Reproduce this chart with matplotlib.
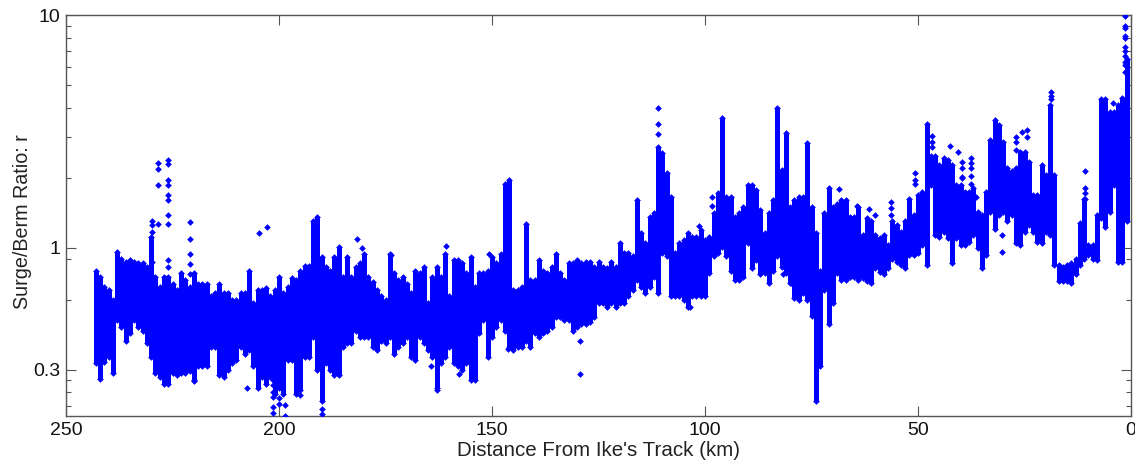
import matplotlib
matplotlib.use("Agg")
import matplotlib.pyplot as plt
from matplotlib.ticker import FixedLocator, FixedFormatter, NullFormatter

plt.rcParams['font.family'] = ['Liberation Sans', 'DejaVu Sans']

km = [243,242,241,240,239,238,237,236,235,234,233,232,231,230,229,228,227,226,225,224,
      223,222,221,220,219,218,217,216,215,214,213,212,211,210,209,208,207,206,205,204,
      203,202,201,200,199,198,197,196,195,194,193,192,191,190,189,188,187,186,185,184,
      183,182,181,180,179,178,177,176,175,174,173,172,171,170,169,168,167,166,165,164,
      163,162,161,160,159,158,157,156,155,154,153,152,151,150,149,148,147,146,145,144,
      143,142,141,140,139,138,137,136,135,134,133,132,131,130,129,128,127,126,125,124,
      123,122,121,120,119,118,117,116,115,114,113,112,111,110,109,108,107,106,105,104,
      103,102,101,100,99,98,97,96,95,94,93,92,91,90,89,88,87,86,85,84,
      83,82,81,80,79,78,77,76,75,74,73,72,71,70,69,68,67,66,65,64,
      63,62,61,60,59,58,57,56,55,54,53,52,51,50,49,48,47,46,45,44,
      43,42,41,40,39,38,37,36,35,34,33,32,31,30,29,28,27,26,25,24,
      23,22,21,20,19,18,17,16,15,14,13,12,11,10,9,8,7,6,5,4,
      3,2,1]

r_high = [.80,.75,.68,.66,.60,.96,.90,.87,.885,.87,.86,.86,.83,1.11,.75,.68,.75,.75,.70,.66,
          .78,.73,.68,.78,.70,.70,.70,.62,.64,.70,.64,.64,.60,.60,.64,.64,.80,.58,.66,.66,
          .67,.62,.66,.75,.64,.68,.74,.73,.80,.84,.84,1.31,1.36,.915,.83,.80,.915,1.01,.75,.915,
          .75,.83,.86,.945,.75,.715,.66,.62,.60,.945,.78,.73,.75,.70,.64,.80,.78,.83,.58,.75,
          .83,.75,.945,.62,.885,.885,.86,.78,.915,.68,.78,.78,.80,.915,.86,.945,1.89,1.95,.66,.66,
          .68,1.27,.73,.73,.885,.80,.78,.83,.945,.78,.73,.86,.86,.885,.86,.87,.87,.83,.87,.83,
          .82,.87,.83,1.05,.95,.95,.92,1.61,1.16,1.05,1.36,1.41,2.72,2.55,2.09,1.66,.95,1.05,1.08,1.16,
          1.12,1.12,1.19,1.08,1.12,1.41,1.72,3.6,1.66,1.66,1.36,1.41,1.50,1.86,1.86,1.77,1.46,1.16,1.41,1.61,
          4.0,2.16,3.1,1.50,1.61,1.66,1.66,2.81,1.50,1.16,.80,1.41,1.80,1.50,1.55,1.61,1.61,1.36,1.36,1.50,
          1.14,1.34,1.30,1.14,1.10,1.14,1.03,1.30,1.25,1.17,1.30,1.63,1.39,1.69,1.74,3.4,2.47,2.47,2.27,2.43,
          2.39,2.27,1.86,1.86,1.74,1.74,1.80,1.43,1.39,1.74,2.91,3.54,3.37,2.86,2.2,2.13,2.2,2.59,2.59,2.35,
          1.69,1.69,2.27,2.06,4.11,2.06,.845,.83,.845,.86,.90,1.28,1.63,1.03,1.03,1.39,4.38,4.38,3.85,3.85,
          4.11,4.4,6.5]

r_low = [.32,.275,.325,.34,.29,.49,.46,.40,.43,.49,.46,.44,.39,.34,.29,.28,.26,.26,.29,.285,
         .29,.29,.295,.27,.31,.31,.31,.375,.375,.285,.28,.30,.32,.33,.375,.35,.365,.31,.25,.28,
         .26,.28,.237,.25,.237,.33,.33,.237,.245,.34,.34,.415,.30,.22,.32,.30,.285,.285,.375,.39,
         .39,.44,.415,.415,.415,.375,.365,.40,.39,.415,.35,.375,.39,.415,.34,.33,.415,.39,.365,.34,
         .245,.32,.34,.375,.32,.31,.30,.32,.27,.27,.43,.49,.34,.415,.46,.49,.44,.375,.365,.375,
         .375,.40,.375,.43,.415,.43,.44,.46,.505,.505,.49,.49,.44,.46,.47,.47,.48,.505,.58,.58,
         .56,.58,.56,.58,.58,.62,.66,.73,.68,.64,.68,.75,.64,.95,.92,.62,.62,.62,.60,.56,
         .62,.62,.62,.62,.78,.92,.95,1.01,.92,.80,.73,.73,.75,1.05,.82,.89,.77,.78,.71,.80,
         .92,.83,.78,.71,.61,.60,.64,.60,.51,.22,.31,.66,.47,.58,.78,.73,.73,.75,.75,.73,
         .74,.72,.705,.82,.79,.77,.82,.90,.87,.845,.82,.93,.93,.95,1.03,.845,1.86,1.14,1.12,1.17,
         1.10,.86,1.10,1.03,1.03,1.06,1.14,1.0,.82,.93,1.43,1.21,1.39,1.43,1.30,1.39,1.05,1.03,1.17,1.25,
         1.17,1.06,1.05,1.17,1.14,.845,.72,.72,.72,.705,.77,.845,.90,.93,.90,.89,1.34,1.23,1.43,1.86,
         .87,.87,1.30]

outlier_km = [228.3,228.3,228.3,228.3,
              226.1,226.1,226.1,226.1,226.1,226.1,226.1,226.1,226.1,226.1,
              229.7,229.7,229.7,229.7,229.7,
              221,221,221,221,221,
              204.6,202.7,
              201.3,201.3,201.3,201.3,201.3,201.3,
              200.1,200.1,198.7,198.7,189.8,189.8,195,220,207.4,
              181.6,180.6,160.8,173.6,129.4,129.4,150.6,157.7,164.3,162.9,146.2,
              111,111,111,68.5,103.5,81.6,79.7,98.4,98.4,101.5,64.4,
              61.6,60,56.4,56.4,56.4,50.7,50.7,50.7,46.6,46.6,46.6,42.6,40.6,
              39.7,39.7,39.7,39.7,37.5,37.5,37.5,37.5,37.5,36.4,30.2,30.2,
              27,27,27,25.5,24.3,24.3,18.8,18.8,18.8,
              10.7,10.7,10.7,10.7,4.3,
              1.5,1.5,1.5,1.5,1.5,1.5,1.5,1.5,1.5,1.5,1.5]
outlier_r = [2.32,2.18,1.86,1.27,
             2.39,2.30,1.95,1.86,1.68,1.61,1.39,1.27,.885,.83,
             1.31,1.25,1.17,.87,.76,
             1.29,1.09,.945,.857,.776,
             1.16,1.23,
             .27,.257,.24,.23,.208,.196,
             .226,.213,.211,.19,.204,.193,.233,.269,.25,
             1.09,1.0,1.02,.93,.288,.40,.945,.288,.31,.25,.37,
             4.0,3.4,3.07,1.79,.56,.77,.71,1.66,1.52,1.24,1.51,
             1.47,1.39,1.58,1.49,1.39,2.1,1.96,1.89,3.03,2.86,2.72,2.74,2.57,
             2.35,2.2,2.02,1.99,2.43,2.31,2.2,2.04,1.89,1.66,.96,1.14,
             3.0,2.86,2.63,3.14,3.21,3.0,4.69,4.5,4.38,
             2.15,1.81,1.72,1.63,4.17,
             9.87,9.0,8.8,8.1,7.95,7.3,7.0,6.7,6.3,6.1,5.7]

x_ticks = [250, 200, 150, 100, 50, 0]
y_major = [0.3, 1, 10]
y_major_labels = ['0.3', '1', '10']
y_minor = [.21, .24, .27, .6, .9, 2, 3, 4, 5, 6, 7, 8, 9]

W, H = 1135, 465
BLUE = '#0000ff'
EDGE = '#555555'

fig = plt.figure(figsize=(W / 100, H / 100), dpi=100)
ax = fig.add_axes([66 / W, 1 - 416 / H, (1131 - 66) / W, (416 - 15) / H])

ax.vlines(km, r_low, r_high, colors=BLUE, linewidth=3.6, zorder=2)
ax.plot(km, r_high, ls='none', marker='D', ms=3.4, color=BLUE, mew=0, zorder=3)
ax.plot(km, r_low, ls='none', marker='D', ms=3.4, color=BLUE, mew=0, zorder=3)
ax.plot(outlier_km, outlier_r, ls='none', marker='D', ms=3.4, color=BLUE, mew=0, zorder=3)

ax.set_yscale('log')
ax.set_xlim(250, 0)
ax.set_ylim(0.19, 10)
ax.xaxis.set_major_locator(FixedLocator(x_ticks))
ax.yaxis.set_major_locator(FixedLocator(y_major))
ax.yaxis.set_major_formatter(FixedFormatter(y_major_labels))
ax.yaxis.set_minor_locator(FixedLocator(y_minor))
ax.yaxis.set_minor_formatter(NullFormatter())

ax.tick_params(axis='both', which='major', direction='in', length=7.5, width=0.8,
               top=True, right=True, color=EDGE, labelsize=14, labelcolor='#111111', pad=4)
ax.tick_params(axis='y', which='minor', direction='in', length=3.8, width=0.8,
               right=True, left=True, color=EDGE)
for s in ax.spines.values():
    s.set_color(EDGE)
    s.set_linewidth(1.0)

ax.set_xlabel("Distance From Ike's Track (km)", fontsize=14.8, color='#222222')
ax.xaxis.set_label_coords(0.5, -0.062)
ax.set_ylabel("Surge/Berm Ratio: r", fontsize=14.2, color='#222222')
ax.yaxis.set_label_coords(-0.032, 0.484)

fig.savefig('out.png', dpi=100)
